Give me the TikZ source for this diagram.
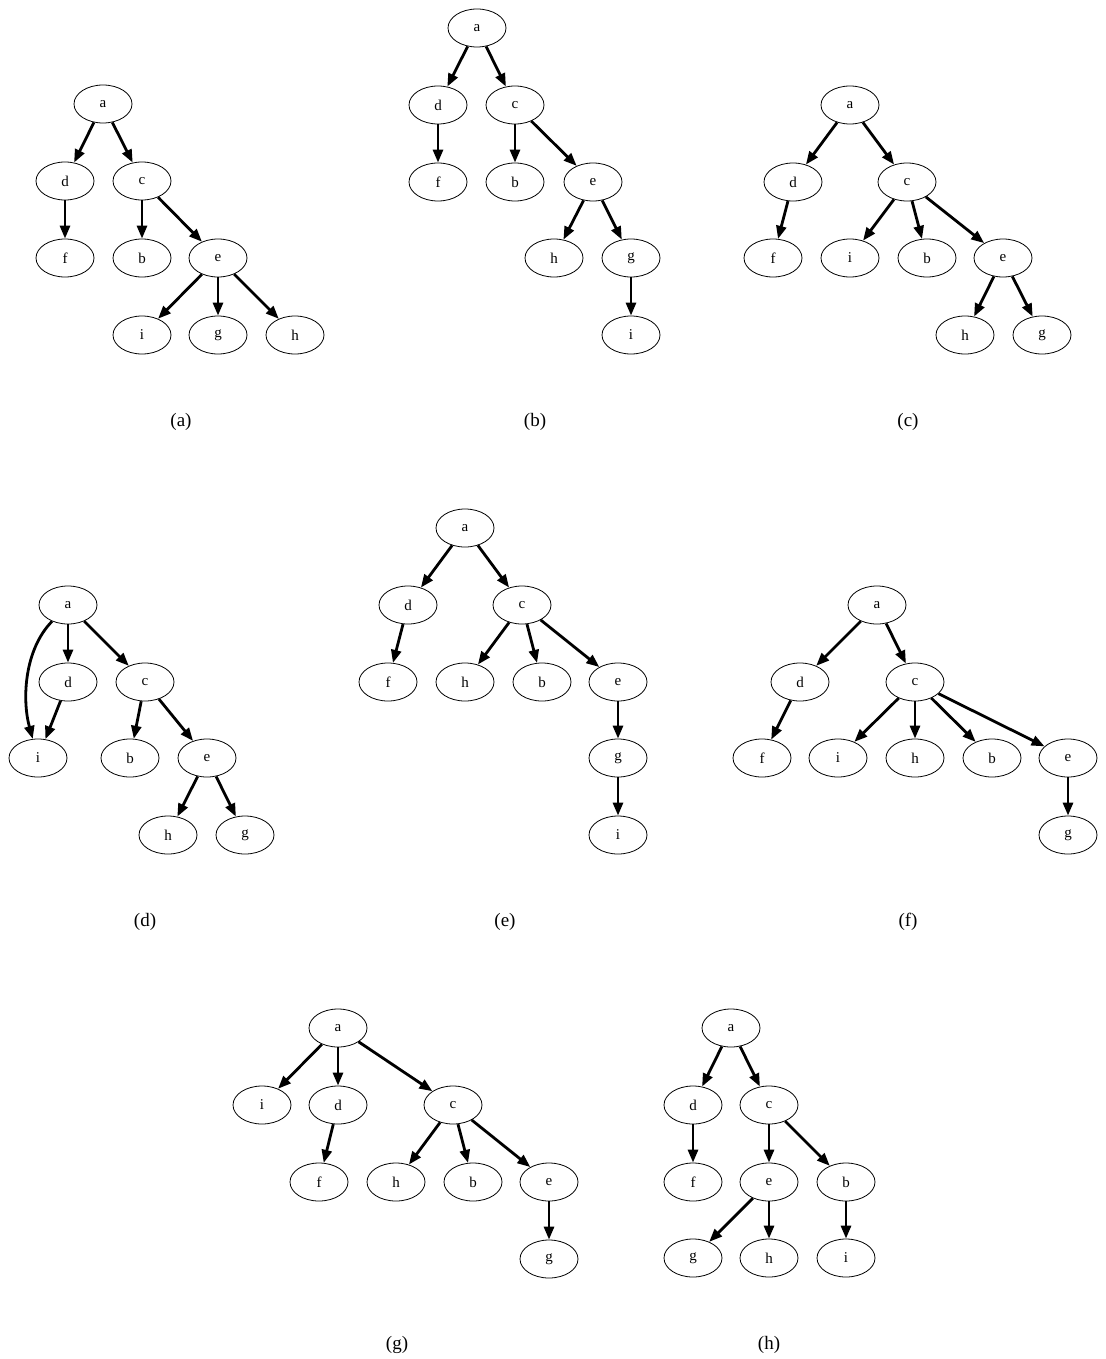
\documentclass[tikz,border=0pt]{standalone}
\usepackage{fontspec}
\setmainfont{Liberation Serif}
\usetikzlibrary{shapes.geometric,arrows.meta}
\tikzset{
  nd/.style={ellipse, draw, line width=0.8pt, minimum width=58pt, minimum height=38pt, inner sep=0pt, font=\fontsize{15}{15}\selectfont},
  ed/.style={-{Triangle[length=13pt,width=10pt]}, line width=2.8pt},
  sublabel/.style={font=\fontsize{19}{19}\selectfont}
}
\begin{document}
\begin{tikzpicture}[x=1pt,y=-1pt]
\useasboundingbox (0,0) rectangle (1105,1359);
% ---------- (a)
\node[nd] (A-a) at (103,104) {a};
\node[nd] (A-d) at (65,181) {d};
\node[nd] (A-c) at (142,181) {c};
\node[nd] (A-f) at (65,258) {f};
\node[nd] (A-b) at (142,258) {b};
\node[nd] (A-e) at (218,258) {e};
\node[nd] (A-i) at (142,335) {i};
\node[nd] (A-g) at (218,335) {g};
\node[nd] (A-h) at (295,335) {h};
\foreach \s/\t in {a/d,a/c,d/f,c/b,c/e,e/i,e/g,e/h} \draw[ed] (A-\s) -- (A-\t);
\node[sublabel] (capA) at (181,422) {(a)};
% ---------- (b)
\node[nd] (B-a) at (477,28) {a};
\node[nd] (B-d) at (438,105) {d};
\node[nd] (B-c) at (515,105) {c};
\node[nd] (B-f) at (438,182) {f};
\node[nd] (B-b) at (515,182) {b};
\node[nd] (B-e) at (593,182) {e};
\node[nd] (B-h) at (554,258) {h};
\node[nd] (B-g) at (631,258) {g};
\node[nd] (B-i) at (631,335) {i};
\foreach \s/\t in {a/d,a/c,d/f,c/b,c/e,e/h,e/g,g/i} \draw[ed] (B-\s) -- (B-\t);
\node[sublabel] (capB) at (535,422) {(b)};
% ---------- (c)
\node[nd] (C-a) at (850,105) {a};
\node[nd] (C-d) at (793,182) {d};
\node[nd] (C-c) at (907,182) {c};
\node[nd] (C-f) at (773,258) {f};
\node[nd] (C-i) at (850,258) {i};
\node[nd] (C-b) at (927,258) {b};
\node[nd] (C-e) at (1003,258) {e};
\node[nd] (C-h) at (965,335) {h};
\node[nd] (C-g) at (1042,335) {g};
\foreach \s/\t in {a/d,a/c,d/f,c/i,c/b,c/e,e/h,e/g} \draw[ed] (C-\s) -- (C-\t);
\node[sublabel] (capC) at (908,422) {(c)};
% ---------- (d)
\node[nd] (D-a) at (68,605) {a};
\node[nd] (D-d) at (68,682) {d};
\node[nd] (D-c) at (145,682) {c};
\node[nd] (D-i) at (38,758) {i};
\node[nd] (D-b) at (130,758) {b};
\node[nd] (D-e) at (207,758) {e};
\node[nd] (D-h) at (168,835) {h};
\node[nd] (D-g) at (245,835) {g};
\draw[ed] (D-a) .. controls (24,650) and (22,700) .. (D-i);
\foreach \s/\t in {a/d,a/c,d/i,c/b,c/e,e/h,e/g} \draw[ed] (D-\s) -- (D-\t);
\node[sublabel] (capD) at (145,922) {(d)};
% ---------- (e)
\node[nd] (E-a) at (465,528) {a};
\node[nd] (E-d) at (408,605) {d};
\node[nd] (E-c) at (522,605) {c};
\node[nd] (E-f) at (388,682) {f};
\node[nd] (E-h) at (465,682) {h};
\node[nd] (E-b) at (542,682) {b};
\node[nd] (E-e) at (618,682) {e};
\node[nd] (E-g) at (618,758) {g};
\node[nd] (E-i) at (618,835) {i};
\foreach \s/\t in {a/d,a/c,d/f,c/h,c/b,c/e,e/g,g/i} \draw[ed] (E-\s) -- (E-\t);
\node[sublabel] (capE) at (505,922) {(e)};
% ---------- (f)
\node[nd] (F-a) at (877,605) {a};
\node[nd] (F-d) at (800,682) {d};
\node[nd] (F-c) at (915,682) {c};
\node[nd] (F-f) at (762,758) {f};
\node[nd] (F-i) at (838,758) {i};
\node[nd] (F-h) at (915,758) {h};
\node[nd] (F-b) at (992,758) {b};
\node[nd] (F-e) at (1068,758) {e};
\node[nd] (F-g) at (1068,835) {g};
\foreach \s/\t in {a/d,a/c,d/f,c/i,c/h,c/b,c/e,e/g} \draw[ed] (F-\s) -- (F-\t);
\node[sublabel] (capF) at (908,922) {(f)};
% ---------- (g)
\node[nd] (G-a) at (338,1028) {a};
\node[nd] (G-i) at (262,1105) {i};
\node[nd] (G-d) at (338,1105) {d};
\node[nd] (G-c) at (453,1105) {c};
\node[nd] (G-f) at (319,1182) {f};
\node[nd] (G-h) at (396,1182) {h};
\node[nd] (G-b) at (473,1182) {b};
\node[nd] (G-e) at (549,1182) {e};
\node[nd] (G-g) at (549,1259) {g};
\foreach \s/\t in {a/i,a/d,a/c,d/f,c/h,c/b,c/e,e/g} \draw[ed] (G-\s) -- (G-\t);
\node[sublabel] (capG) at (397,1345) {(g)};
% ---------- (h)
\node[nd] (H-a) at (731,1028) {a};
\node[nd] (H-d) at (693,1105) {d};
\node[nd] (H-c) at (769,1105) {c};
\node[nd] (H-f) at (693,1182) {f};
\node[nd] (H-e) at (769,1182) {e};
\node[nd] (H-b) at (846,1182) {b};
\node[nd] (H-g) at (693,1258) {g};
\node[nd] (H-h) at (769,1258) {h};
\node[nd] (H-i) at (846,1258) {i};
\foreach \s/\t in {a/d,a/c,d/f,c/e,c/b,e/g,e/h,b/i} \draw[ed] (H-\s) -- (H-\t);
\node[sublabel] (capH) at (769,1345) {(h)};
\end{tikzpicture}
\end{document}
